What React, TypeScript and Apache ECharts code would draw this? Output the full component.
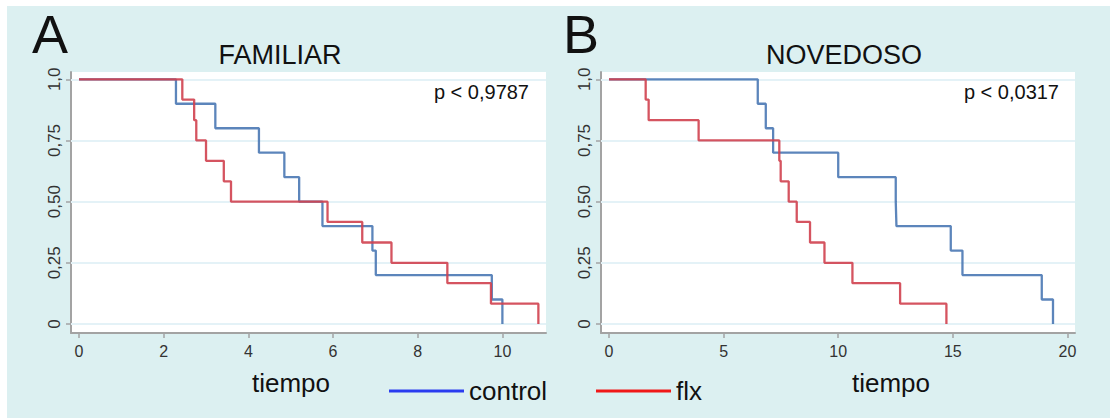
import React, { useEffect, useRef } from "react";
import * as echarts from "echarts";

// ---- data ----
const famControlTimes = [0, 2.29, 3.22, 4.25, 4.85, 5.2, 5.75, 6.93, 7.01, 9.75, 10.0];
const famControlSurv = [1, 0.9, 0.8, 0.7, 0.6, 0.5, 0.4, 0.3, 0.2, 0.1, 0];
const famFlxTimes = [0, 2.44, 2.72, 2.77, 3.0, 3.42, 3.59, 5.87, 6.69, 7.38, 8.7, 9.73, 10.85];
const famFlxSurv = [1, 0.917, 0.833, 0.75, 0.667, 0.583, 0.5, 0.417, 0.333, 0.25, 0.167, 0.083, 0];

const novControlTimes = [0, 6.49, 6.84, 7.16, 10.0, 12.51, 12.54, 14.91, 15.42, 18.88, 19.37];
const novControlSurv = [1, 0.9, 0.8, 0.7, 0.6, 0.5, 0.4, 0.3, 0.2, 0.1, 0];
const novFlxTimes = [0, 1.6, 1.73, 3.91, 7.43, 7.49, 7.84, 8.19, 8.77, 9.4, 10.62, 12.7, 14.72];
const novFlxSurv = [1, 0.917, 0.833, 0.75, 0.667, 0.583, 0.5, 0.417, 0.333, 0.25, 0.167, 0.083, 0];

const famXTicks = [0, 2, 4, 6, 8, 10];
const novXTicks = [0, 5, 10, 15, 20];
const yTicks = [0, 0.25, 0.5, 0.75, 1];
const yTickLabels = ["0", "0,25", "0,50", "0,75", "1,0"];

const seriesNames = ["control", "flx"];
const panelTitles = ["FAMILIAR", "NOVEDOSO"];
const panelLetters = ["A", "B"];
const pValues = ["p < 0,9787", "p < 0,0317"];
const xAxisName = "tiempo";

const FONT = "'Liberation Sans', Arial, sans-serif";
const BLUE = "#4a78b4";
const RED = "#d0414f";

const zip = (t: number[], s: number[]) => t.map((v, i) => [v, s[i]]);

export default function App() {
  const ref = useRef<HTMLDivElement>(null);
  useEffect(() => {
    if (!ref.current) return;
    const chart = echarts.init(ref.current, undefined, { renderer: "svg" });

    const axisLine = { show: true, lineStyle: { color: "#a3a3a3", width: 2 } };
    const axisTickStyle = { show: true, length: 5, lineStyle: { color: "#a3a3a3", width: 1.5 } };

    const xAxis = (idx: number, min: number, max: number, ticks: number[]) => ({
      type: "value",
      gridIndex: idx,
      min,
      max,
      axisLine: { ...axisLine, onZero: false },
      axisTick: { ...axisTickStyle, customValues: ticks },
      axisLabel: {
        customValues: ticks,
        fontSize: 16,
        color: "#333",
        fontFamily: FONT,
        margin: 10,
      },
      splitLine: { show: false },
    });

    const yAxis = (idx: number) => ({
      type: "value",
      gridIndex: idx,
      min: -0.0368,
      max: 1.0298,
      axisLine: { ...axisLine, onZero: false },
      axisTick: { ...axisTickStyle, customValues: yTicks },
      axisLabel: {
        customValues: yTicks,
        rotate: 90,
        fontSize: 17,
        color: "#333",
        fontFamily: FONT,
        margin: 8,
        formatter: (v: number) => {
          const i = yTicks.findIndex((t) => Math.abs(t - v) < 1e-6);
          return i >= 0 ? yTickLabels[i] : "";
        },
      },
      splitLine: { show: false },
    });

    const gridLines = (idx: number) => ({
      type: "line",
      xAxisIndex: idx,
      yAxisIndex: idx,
      data: [],
      z: 1,
      silent: true,
      markLine: {
        silent: true,
        z: 1,
        symbol: "none",
        animation: false,
        label: { show: false },
        lineStyle: { color: "#e4f2f7", width: 2, type: "solid" },
        data: yTicks.map((v) => ({ yAxis: v })),
      },
    });

    const km = (idx: number, name: string, data: number[][], color: string) => ({
      type: "line",
      name,
      xAxisIndex: idx,
      yAxisIndex: idx,
      data,
      step: "end",
      showSymbol: false,
      symbol: "none",
      z: 6,
      lineStyle: { color, width: 2.3, opacity: 0.9 },
      itemStyle: { color },
    });

    const text = (
      x: number,
      y: number,
      t: string,
      size: number,
      align: string = "center"
    ) => ({
      type: "text",
      x,
      y,
      z: 10,
      style: {
        text: t,
        fontSize: size,
        fontFamily: FONT,
        fill: "#111",
        textAlign: align,
        textVerticalAlign: "middle",
      },
    });

    const legend = (left: number, name: string, color: string) => ({
      show: true,
      left,
      top: 378,
      padding: 0,
      orient: "horizontal",
      itemWidth: 75,
      itemHeight: 3,
      icon: "rect",
      selectedMode: false,
      textStyle: { fontSize: 26, color: "#111", fontFamily: FONT },
      data: [{ name, icon: "rect", itemStyle: { color, borderWidth: 0 }, lineStyle: { width: 0 } }],
    });

    chart.setOption({
      animation: false,
      grid: [
        { left: 71, top: 72, width: 475, height: 261, show: true, backgroundColor: "#ffffff", borderWidth: 0 },
        { left: 601, top: 72, width: 474, height: 261, show: true, backgroundColor: "#ffffff", borderWidth: 0 },
      ],
      xAxis: [xAxis(0, -0.189, 11.03, famXTicks), xAxis(1, -0.349, 20.33, novXTicks)],
      yAxis: [yAxis(0), yAxis(1)],
      legend: [legend(389, seriesNames[0], "#2a3cf0"), legend(596, seriesNames[1], "#f01818")],
      series: [
        gridLines(0),
        gridLines(1),
        km(0, seriesNames[0], zip(famControlTimes, famControlSurv), BLUE),
        km(0, seriesNames[1], zip(famFlxTimes, famFlxSurv), RED),
        km(1, seriesNames[0], zip(novControlTimes, novControlSurv), BLUE),
        km(1, seriesNames[1], zip(novFlxTimes, novFlxSurv), RED),
      ],
      graphic: [
        text(32, 34, panelLetters[0], 54, "left"),
        text(563, 34, panelLetters[1], 54, "left"),
        text(280, 55, panelTitles[0], 27),
        text(844, 55, panelTitles[1], 27),
        text(529, 92, pValues[0], 20, "right"),
        text(1059, 92, pValues[1], 20, "right"),
        text(291, 383, xAxisName, 26),
        text(891, 383, xAxisName, 26),
      ],
    });

    return () => chart.dispose();
  }, []);

  return (
    <div style={{ position: "absolute", left: 0, top: 0, width: 1117, height: 420, background: "#ffffff" }}>
      <div
        style={{ position: "absolute", left: 7, top: 6, width: 1103, height: 412, background: "#dcf0f1" }}
      />
      <div ref={ref} style={{ position: "absolute", left: 0, top: 0, width: 1117, height: 420 }} />
    </div>
  );
}
